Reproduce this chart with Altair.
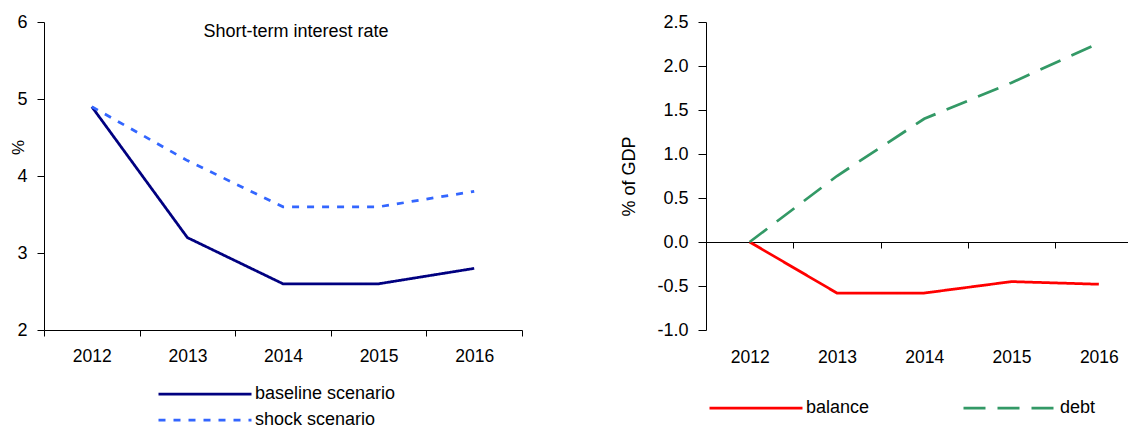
import altair as alt
import pandas as pd

# --- data -------------------------------------------------------------
years = [2012, 2013, 2014, 2015, 2016]

rate_series = ["baseline scenario", "shock scenario"]
baseline = [4.9, 3.2, 2.6, 2.6, 2.8]
shock = [4.9, 4.2, 3.6, 3.6, 3.8]

fiscal_series = ["balance", "debt"]
balance = [0.0, -0.58, -0.58, -0.45, -0.48]
debt = [0.0, 0.75, 1.40, 1.81, 2.26]

rate_ticks = [2, 3, 4, 5, 6]
gdp_ticks = [-1.0, -0.5, 0.0, 0.5, 1.0, 1.5, 2.0, 2.5]

# --- layout -----------------------------------------------------------
FONT = "Liberation Sans"
LEFT_W = 478
RIGHT_W = 422
H = 308
BAND_L = LEFT_W / len(years)
BAND_R = 87.3
GAP = 184
GDP_MIN, GDP_MAX = -1.0, 2.5
ZERO_OFFSET = -H * (0 - GDP_MIN) / (GDP_MAX - GDP_MIN)


def to_long(names, series):
    rows = []
    for name, vals in zip(names, series):
        for i, (yr, v) in enumerate(zip(years, vals)):
            rows.append({"pos": i + 0.5, "year": yr, "series": name, "value": v})
    return pd.DataFrame(rows)


year_label = "datum.value < 5 ? '' + (2012 + datum.value) : ''"


def make_legend(x, y, horizontal=False):
    opts = dict(
        orient="none", legendX=x, legendY=y, title=None,
        symbolType="stroke", symbolSize=93 ** 2, symbolStrokeWidth=2.75,
        labelFont=FONT, labelFontSize=18, labelColor="black",
        labelOffset=2, clipHeight=18, rowPadding=8, padding=0,
        labelLimit=300,
    )
    if horizontal:
        opts.update(direction="horizontal", columns=2, columnPadding=92)
    else:
        opts.update(direction="vertical")
    return alt.Legend(**opts)


# --- left panel: short-term interest rate ------------------------------
rate_df = to_long(rate_series, [baseline, shock])
rate_legend = make_legend(113, 363)

left = (
    alt.Chart(
        rate_df,
        title=alt.TitleParams(
            "Short-term interest rate", font=FONT, fontSize=18,
            fontWeight="normal", color="black", anchor="middle",
            baseline="middle", offset=0, dy=37, dx=13,
        ),
    )
    .mark_line(strokeWidth=2.75)
    .encode(
        x=alt.X(
            "pos:Q",
            scale=alt.Scale(domain=[0, 5], nice=False, zero=False),
            axis=alt.Axis(
                values=[0, 1, 2, 3, 4, 5], labelExpr=year_label,
                labelOffset=BAND_L / 2, tickSize=6, labelPadding=20,
                labelBaseline="middle", labelFlush=False, labelOverlap=False,
                labelFontSize=17.5, title=None, grid=False,
            ),
        ),
        y=alt.Y(
            "value:Q",
            scale=alt.Scale(domain=[2, 6], nice=False, zero=False),
            axis=alt.Axis(
                values=rate_ticks, tickSize=7, labelPadding=10,
                labelFlush=False, grid=False,
                title="%", titleX=-26, titleY=125, titleAngle=-90,
                titleAlign="center", titleBaseline="middle",
            ),
        ),
        color=alt.Color(
            "series:N",
            scale=alt.Scale(domain=rate_series, range=["#000080", "#3366FF"]),
            legend=rate_legend,
        ),
        strokeDash=alt.StrokeDash(
            "series:N",
            scale=alt.Scale(domain=rate_series, range=[[1, 0], [7, 8]]),
            legend=rate_legend,
        ),
    )
    .properties(width=LEFT_W, height=H)
)

# --- right panel: balance and debt (% of GDP) --------------------------
fiscal_df = to_long(fiscal_series, [balance, debt])
fiscal_legend = make_legend(2, 377, horizontal=True)

right = (
    alt.Chart(fiscal_df)
    .mark_line(strokeWidth=2.75)
    .encode(
        x=alt.X(
            "pos:Q",
            scale=alt.Scale(domain=[0, RIGHT_W / BAND_R], nice=False, zero=False),
            axis=alt.Axis(
                values=[0, 1, 2, 3, 4], labelExpr=year_label,
                labelOffset=BAND_R / 2, tickSize=6, labelPadding=109,
                labelBaseline="middle", labelFlush=False, labelOverlap=False,
                labelFontSize=17.5, offset=ZERO_OFFSET, title=None, grid=False,
            ),
        ),
        y=alt.Y(
            "value:Q",
            scale=alt.Scale(domain=[GDP_MIN, GDP_MAX], nice=False, zero=False),
            axis=alt.Axis(
                values=gdp_ticks, tickSize=8, labelPadding=10,
                labelFlush=False, grid=False,
                labelExpr="(datum.value < 0 ? '-' : '') + format(abs(datum.value), '.1f')",
                title="% of GDP", titleX=-77, titleAngle=-90, titleFontSize=18,
                titleAlign="center", titleBaseline="middle",
            ),
        ),
        color=alt.Color(
            "series:N",
            scale=alt.Scale(domain=fiscal_series, range=["#FF0000", "#339966"]),
            legend=fiscal_legend,
        ),
        strokeDash=alt.StrokeDash(
            "series:N",
            scale=alt.Scale(domain=fiscal_series, range=[[1, 0], [22, 12]]),
            legend=fiscal_legend,
        ),
    )
    .properties(width=RIGHT_W, height=H)
)

chart = (
    alt.hconcat(left, right, spacing=GAP, bounds="flush")
    .resolve_scale(x="independent", y="independent",
                   color="independent", strokeDash="independent")
    .properties(padding={"left": 9, "top": 13, "right": 0, "bottom": 0})
    .configure_view(stroke=None)
    .configure_axis(
        domainColor="black", tickColor="black", labelColor="black",
        labelFont=FONT, labelFontSize=18, titleFont=FONT, titleFontSize=17,
        titleFontWeight="normal", titleColor="black",
    )
)

chart.save("out.html", embed_options={"renderer": "svg", "actions": False})
